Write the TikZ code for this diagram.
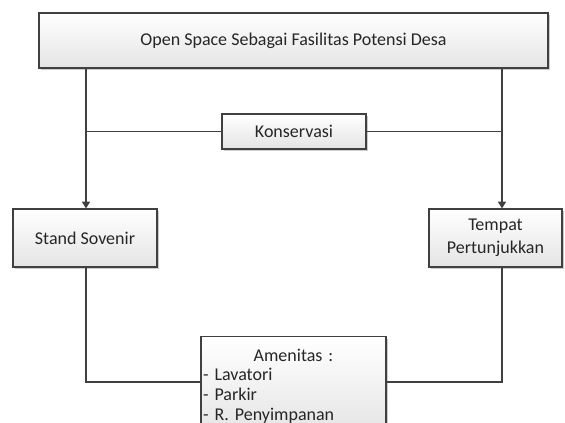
\documentclass[tikz,border=0pt]{standalone}
\usepackage{fontspec}
\setmainfont{Carlito}
\usetikzlibrary{arrows.meta,shadows}

\definecolor{linegray}{HTML}{404040}
\definecolor{boxbottom}{HTML}{E4E4E4}

\tikzset{
    boxnode/.style={draw=linegray, line width=0.9pt, top color=white, bottom color=boxbottom,
        drop shadow={shadow xshift=1.8pt, shadow yshift=-1.8pt, fill=black!20, opacity=1},
        text=black!85, align=center, inner sep=2pt},
    conn/.style={draw=linegray, line width=0.9pt},
    connarrow/.style={conn, -{Triangle[width=6pt,length=5pt]}}
}

\begin{document}
\begin{tikzpicture}[x=0.75pt, y=-0.75pt, font=\fontsize{13.5}{14.8}\selectfont]
        \def\lx{86}  % left branch
        \def\rx{502} % right branch

        \useasboundingbox (0,0) rectangle (565,423);

        % Define boxes
        \node[boxnode, minimum width=381.75pt, minimum height=41.25pt] (top) at (293.5,40.5)
            {Open Space Sebagai Fasilitas Potensi Desa};
        \node[boxnode, minimum width=108pt, minimum height=26.25pt] (kons) at (294,131.5) {Konservasi};
        \node[boxnode, minimum width=108pt, minimum height=43.5pt] (ss) at (85,238) {Stand Sovenir};
        \node[boxnode, minimum width=99.75pt, minimum height=43.5pt] (tp) at (495.5,238) {Tempat\\[2.5pt]Pertunjukkan};
        \node[boxnode, anchor=north, align=left, text width=135.75pt, inner xsep=1.5pt, inner ysep=3pt,
            minimum height=74pt] (amen) at (293.5,336)
            {\makebox[\linewidth]{Amenitas :}\\- Lavatori\\- Parkir\\- R. Penyimpanan};

        % Define branch points
        \coordinate (tl) at (top.south -| \lx,0);
        \coordinate (tr) at (top.south -| \rx,0);

        % Define connectors
        \draw[connarrow] (tl) -- (tl |- ss.north);
        \draw[connarrow] (tr) -- (tr |- tp.north);
        \draw[conn] (kons.west) -- (kons.west -| tl);
        \draw[conn] (kons.east) -- (kons.east -| tr);
        \draw[conn] (tl |- ss.south) |- ([yshift=-34.5pt]amen.north west);
        \draw[conn] (tr |- tp.south) |- ([yshift=-34.5pt]amen.north east);
    \end{tikzpicture}
\end{document}
